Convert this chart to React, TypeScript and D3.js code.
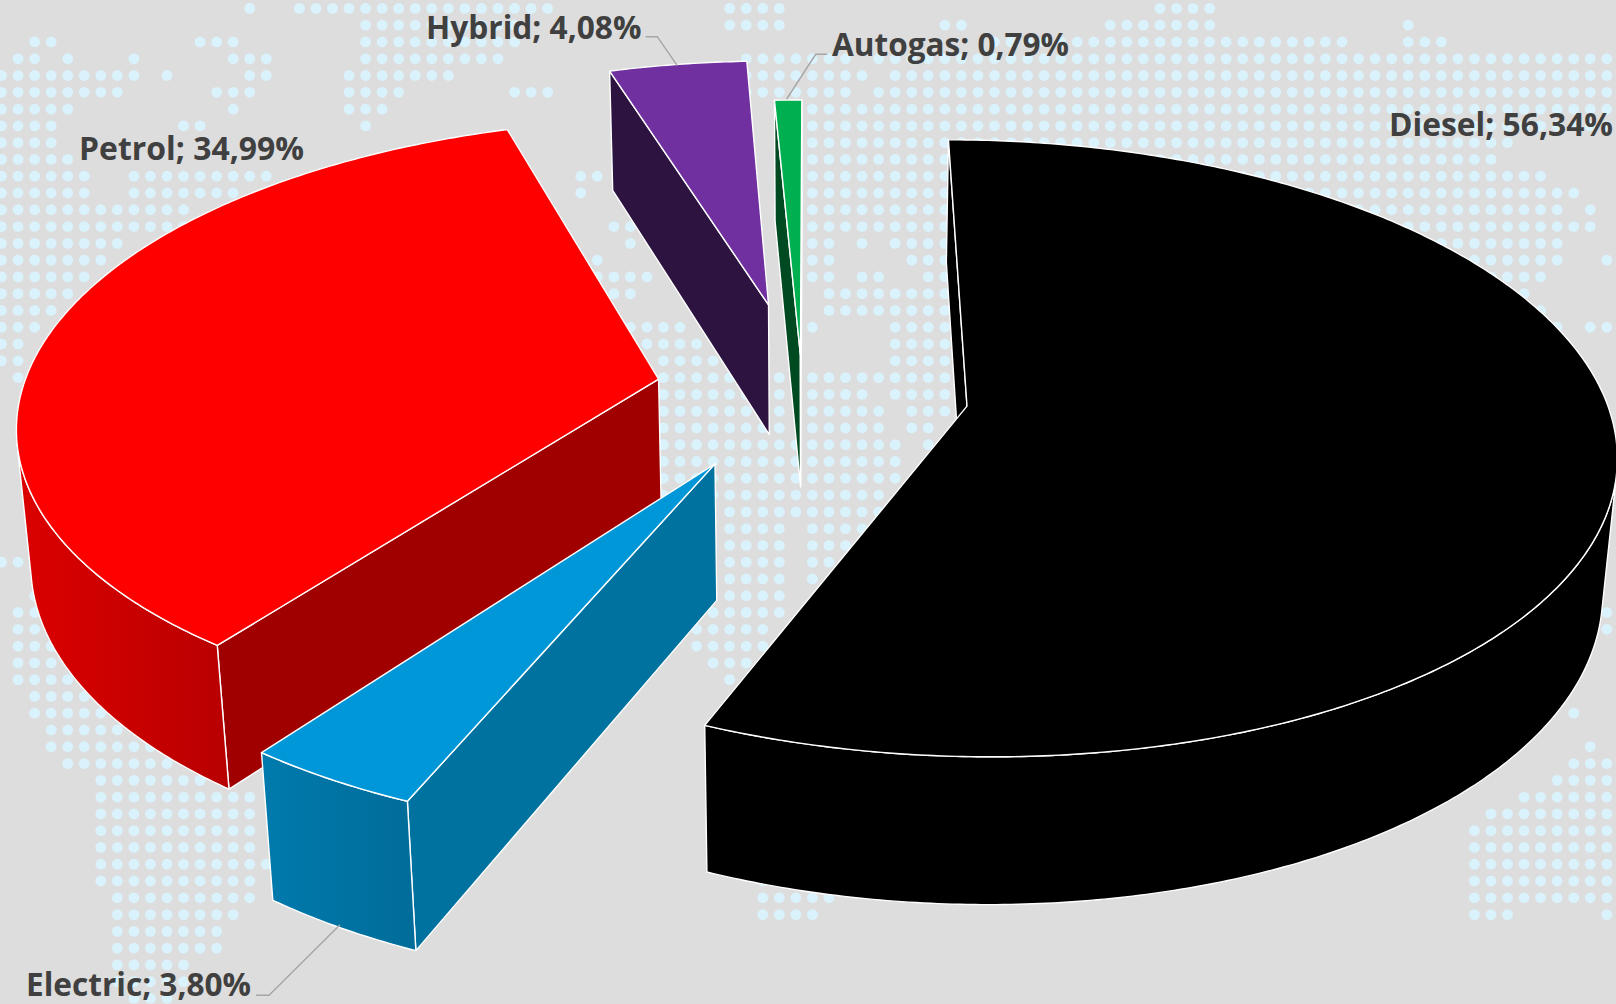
import { useMemo } from "react";
import * as d3 from "d3";

const WIDTH = 1616;
const HEIGHT = 1004;

// chart values, in drawing order round the pie (clockwise from the top)
const fuels = ["Diesel", "Electric", "Petrol", "Hybrid", "Autogas"];
const shares = [56.34, 3.8, 34.99, 4.08, 0.79];
const shareLabels = ["56,34%", "3,80%", "34,99%", "4,08%", "0,79%"];

// how far each slice is pulled out, and a small correction of its direction (degrees)
const explode = [0.2445, 0.275, 0.248, 0.314, 0.13];
const explodeTurn = [-0.75, 3.15, 1, -3.2, -7.5];

const topColors = ["#000000", "#0097d8", "#ff0000", "#7030a0", "#00b050"];
const cutColors = ["#000000", "#00729f", "#a00000", "#2c1340", "#004a22"];
const wallColors = [
  ["#000000", "#000000"],
  ["#007aad", "#006c99"],
  ["#dc0000", "#b80000"],
  ["#2c1340", "#2c1340"],
  ["#004a22", "#004a22"],
];

// back slices are painted first
const paintOrder = [4, 3, 0, 2, 1];

// label layout: [text x start, text x end, baseline]
const labelBoxes = [
  [1389, 1613, 136],
  [26, 251, 996],
  [79, 304, 160],
  [426, 641.5, 39],
  [832, 1069, 56],
];
const leaders: ([number, number][] | null)[] = [
  null,
  [[256, 995.3], [269, 995.3], [340, 924.7]],
  null,
  [[645.7, 36.7], [657.3, 36.7], [677.3, 65.7]],
  [[827.3, 54.3], [815.7, 54.3], [786.7, 99]],
];

// dot map in the background: one list of [first column, last column] runs per row
const mapRows: [number, number][][] = [
  [[15, 15], [18, 33], [44, 47], [70, 73]],
  [[22, 31], [44, 47], [57, 58], [67, 73], [85, 85]],
  [[2, 3], [12, 14], [22, 31], [60, 81], [85, 87]],
  [[1, 2], [4, 4], [8, 8], [14, 16], [22, 30], [45, 51], [53, 97]],
  [[0, 8], [10, 10], [15, 16], [21, 27], [45, 52], [54, 97]],
  [[0, 7], [13, 15], [21, 24], [31, 33], [45, 51], [53, 97]],
  [[0, 4], [14, 14], [21, 23], [49, 97]],
  [[0, 3], [11, 12], [22, 22], [49, 97]],
  [[0, 3], [49, 91]],
  [[0, 4], [49, 90]],
  [[0, 5], [8, 16], [35, 36], [49, 93]],
  [[0, 5], [8, 14], [35, 35], [49, 95]],
  [[0, 11], [49, 94], [96, 96]],
  [[0, 12], [37, 38], [49, 96]],
  [[0, 7], [38, 38], [49, 50], [52, 52], [54, 94]],
  [[0, 6], [36, 36], [49, 50], [55, 94], [97, 97]],
  [[0, 5], [36, 39], [49, 50], [52, 53], [56, 93]],
  [[0, 4], [37, 38], [50, 92]],
  [[0, 3], [50, 93]],
  [[0, 2], [38, 41], [49, 49], [54, 94], [96, 97]],
  [[0, 1], [39, 42], [54, 90]],
  [[0, 1], [40, 43], [54, 90]],
  [[1, 1], [40, 47], [49, 90]],
  [[40, 47], [49, 52], [54, 90]],
  [[40, 47], [49, 53], [55, 90]],
  [[40, 46], [47, 47], [49, 53], [55, 56]],
  [[40, 48], [49, 54], [56, 56]],
  [[40, 48], [49, 54]],
  [[40, 48], [49, 54]],
  [[40, 48], [49, 53]],
  [[44, 48], [49, 53]],
  [[44, 47], [49, 52]],
  [[44, 47], [49, 51]],
  [[0, 1], [44, 47], [49, 50]],
  [[44, 47], [49, 49]],
  [[2, 2], [44, 47]],
  [[1, 2], [43, 47], [97, 97]],
  [[1, 2], [42, 46], [97, 97]],
  [[1, 3], [42, 46]],
  [[1, 3], [43, 45]],
  [[1, 4], [44, 44]],
  [[2, 5]],
  [[2, 6], [95, 95]],
  [[3, 7]],
  [[3, 9], [96, 96]],
  [[4, 10], [95, 97]],
  [[6, 12], [94, 97]],
  [[6, 15], [92, 97]],
  [[6, 15], [90, 97]],
  [[6, 15], [89, 97]],
  [[6, 15], [89, 97]],
  [[6, 16], [89, 97]],
  [[6, 15], [46, 46], [89, 97]],
  [[7, 15], [46, 50], [89, 97]],
  [[7, 14], [46, 49], [89, 91], [97, 97]],
  [[7, 13]],
  [[7, 13]],
  [[7, 11]],
  [[7, 11]],
  [[8, 10]],
];

// camera of the 3D pie
const cx = 813;
const cy = 392.5;
const rx = 637;
const ry = 299;
const depth = 136;
const persp = 0.136;
const sag = 0.018;

type Pt = [number, number];

function project(x: number, y: number, z: number): Pt {
  const w = 1 + persp * y + sag * z;
  return [cx + (rx * x) / w, cy + (-ry * y + depth * z) / w];
}

// shoelace sum, negative means the face looks at the camera
function area(p: Pt[]) {
  return d3.sum(p, (a, i) => {
    const b = p[(i + 1) % p.length];
    return a[0] * b[1] - b[0] * a[1];
  });
}

const pathOf = d3.line<Pt>().curve(d3.curveLinear);
const closed = (p: Pt[]) => pathOf(p) + "Z";

function buildSlices() {
  const arcs = d3
    .pie<number>()
    .value((d) => d)
    .sort(null)
    .startAngle(0)
    .endAngle(2 * Math.PI)(shares);

  return arcs.map((arc, i) => {
    const a0 = arc.startAngle;
    const a1 = arc.endAngle;
    const turn = ((a0 + a1) / 2) + (explodeTurn[i] * Math.PI) / 180;
    const ox = explode[i] * Math.sin(turn);
    const oy = explode[i] * Math.cos(turn);
    const steps = Math.max(4, Math.ceil((a1 - a0) / 0.01));
    const angles = d3.range(steps + 1).map((k) => a0 + ((a1 - a0) * k) / steps);
    const rim = (a: number, z: number) => project(ox + Math.sin(a), oy + Math.cos(a), z);
    const apex = (z: number) => project(ox, oy, z);

    const top = [apex(0), ...angles.map((a) => rim(a, 0))];
    const startCut = [apex(0), rim(a0, 0), rim(a0, 1), apex(1)];
    const endCut = [rim(a1, 0), apex(0), apex(1), rim(a1, 1)];
    const cuts = [startCut, endCut].filter((q) => area(q) < 0);

    // only the part of the outer wall that faces the camera
    const front = d3.range(steps).filter((k) => {
      return (
        area([
          rim(angles[k], 0),
          rim(angles[k + 1], 0),
          rim(angles[k + 1], 1),
          rim(angles[k], 1),
        ]) < 0
      );
    });
    let wall: Pt[] | null = null;
    if (front.length) {
      const from = angles[front[0]];
      const to = angles[front[front.length - 1] + 1];
      const run = angles.filter((a) => a >= from && a <= to);
      wall = [...run.map((a) => rim(a, 0)), ...run.reverse().map((a) => rim(a, 1))];
    }
    return { i, top, cuts, wall };
  });
}

export default function App() {
  const slices = useMemo(buildSlices, []);

  const dotX = d3.scaleLinear().domain([0, 97]).range([1.5, 1606.8]);
  const dotY = d3.scaleLinear().domain([0, 57]).range([8.4, 964.9]);
  const dots = mapRows.flatMap((runs, r) =>
    runs.flatMap(([a, b]) => d3.range(a, b + 1).map((c) => [dotX(c), dotY(r)])),
  );

  return (
    <svg
      width={WIDTH}
      height={HEIGHT}
      viewBox={`0 0 ${WIDTH} ${HEIGHT}`}
      style={{ position: "absolute", left: 0, top: 0, display: "block" }}
    >
      <defs>
        {wallColors.map((c, i) => (
          <linearGradient key={i} id={`wall-${i}`} x1="0" x2="1" y1="0" y2="0">
            <stop offset="0" stopColor={c[0]} />
            <stop offset="1" stopColor={c[1]} />
          </linearGradient>
        ))}
      </defs>
      <rect width={WIDTH} height={HEIGHT} fill="#dddddd" />
      <g fill="#daf2fc">
        {dots.map((d, k) => (
          <circle key={k} cx={d[0]} cy={d[1]} r={5.4} />
        ))}
      </g>

      {paintOrder.map((i) => {
        const s = slices[i];
        return (
          <g key={fuels[i]} stroke="#ffffff" strokeWidth={1.4} strokeLinejoin="round">
            {s.cuts.map((q, k) => (
              <path key={k} d={closed(q)} fill={cutColors[i]} />
            ))}
            {s.wall && <path d={closed(s.wall)} fill={`url(#wall-${i})`} />}
            <path d={closed(s.top)} fill={topColors[i]} />
          </g>
        );
      })}

      {leaders.map(
        (l, i) =>
          l && (
            <path key={i} d={pathOf(l) ?? ""} fill="none" stroke="#a6a6a6" strokeWidth={1.4} />
          ),
      )}

      {fuels.map((f, i) => (
        <text
          key={f}
          x={labelBoxes[i][0]}
          y={labelBoxes[i][2]}
          textLength={labelBoxes[i][1] - labelBoxes[i][0]}
          lengthAdjust="spacingAndGlyphs"
          fontFamily="'Open Sans', sans-serif"
          fontWeight={700}
          fontSize={32}
          fill="#404040"
        >
          {`${f}; ${shareLabels[i]}`}
        </text>
      ))}
    </svg>
  );
}
